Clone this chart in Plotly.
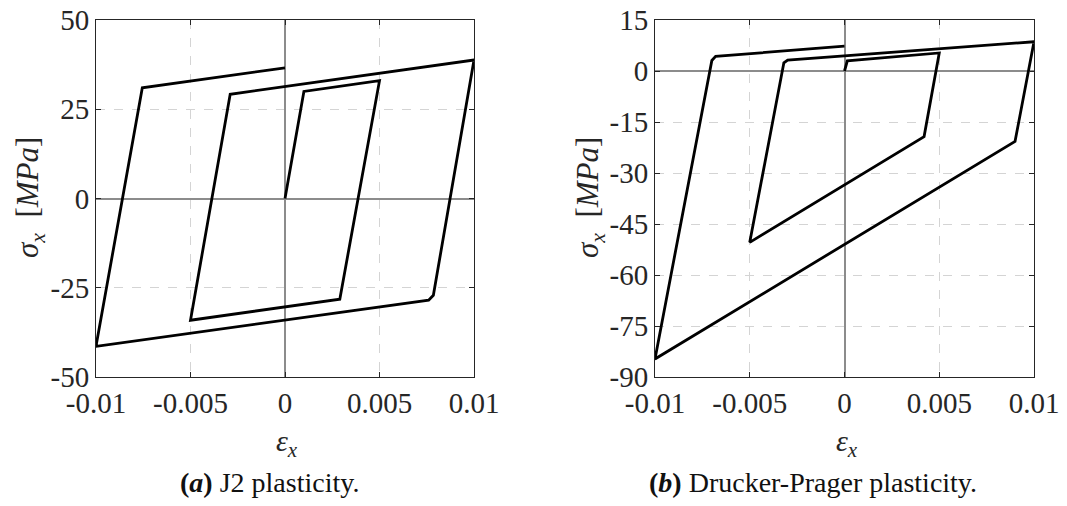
import plotly.graph_objects as go

# ---- data ----
j2_strain = [0.0, 0.001, 0.005, 0.0029, -0.005, -0.0029, 0.01, 0.00785, 0.0076, -0.01, -0.00755, 0.0]
j2_stress = [0.0, 30.0, 33.0, -28.2, -34.1, 29.2, 38.8, -27.1, -28.5, -41.4, 31.0, 36.6]

dp_strain = [0.0, 0.00015, 0.005, 0.0042, -0.005, -0.0032, -0.0030, 0.01, 0.0090, -0.01, -0.0070, -0.0068, 0.0]
dp_stress = [0.0, 3.0, 5.3, -19.3, -50.4, 2.4, 3.2, 8.6, -20.7, -84.7, 3.1, 4.3, 7.3]

x_tickvals = [-0.01, -0.005, 0, 0.005, 0.01]
x_ticktext = ["-0.01", "-0.005", "0", "0.005", "0.01"]
j2_ytickvals = [-50, -25, 0, 25, 50]
j2_yticktext = ["-50", "-25", "0", "25", "50"]
dp_ytickvals = [-90, -75, -60, -45, -30, -15, 0, 15]
dp_yticktext = ["-90", "-75", "-60", "-45", "-30", "-15", "0", "15"]

captions = ["<b>(<i>a</i>)</b> J2 plasticity.", "<b>(<i>b</i>)</b> Drucker-Prager plasticity."]

W, H = 1067, 506
FONT = "Liberation Serif"
AX = "#262626"

fig = go.Figure()
fig.add_trace(go.Scatter(x=j2_strain, y=j2_stress, mode="lines",
                         line=dict(color="black", width=2.8), xaxis="x", yaxis="y",
                         showlegend=False, hoverinfo="skip"))
fig.add_trace(go.Scatter(x=dp_strain, y=dp_stress, mode="lines",
                         line=dict(color="black", width=2.8), xaxis="x2", yaxis="y2",
                         showlegend=False, hoverinfo="skip"))

def px_x(p):
    return p / W

def px_y(p):
    return 1 - p / H

common = dict(showline=True, mirror="ticks", linecolor=AX, linewidth=1,
              ticks="inside", ticklen=5, tickcolor=AX, tickwidth=1,
              showgrid=True, gridcolor="#d4d4d4", griddash="dash", gridwidth=1,
              zeroline=True, zerolinecolor="#8c8c8c", zerolinewidth=2,
              tickfont=dict(family=FONT, size=29, color="#262626"),
              fixedrange=True, automargin=False, tickmode="array")

fig.update_layout(
    width=W, height=H, margin=dict(l=0, r=0, t=0, b=0, autoexpand=False),
    paper_bgcolor="white", plot_bgcolor="white",
    xaxis=dict(domain=[px_x(96), px_x(474)], anchor="y", range=[-0.01, 0.01],
               tickvals=x_tickvals, ticktext=x_ticktext, **common),
    yaxis=dict(domain=[px_y(377), px_y(20)], anchor="x", range=[-50, 50],
               tickvals=j2_ytickvals, ticktext=j2_yticktext, **common),
    xaxis2=dict(domain=[px_x(655), px_x(1034)], anchor="y2", range=[-0.01, 0.01],
                tickvals=x_tickvals, ticktext=x_ticktext, **common),
    yaxis2=dict(domain=[px_y(377), px_y(20)], anchor="x2", range=[-90, 15],
                tickvals=dp_ytickvals, ticktext=dp_yticktext, **common),
    showlegend=False,
)

ylabel = "<i>σ</i><sub><i>x</i></sub>  [<i>MPa</i>]"
xlabel = "<i>ε</i><sub><i>x</i></sub>"
ann = []
for cx, ylx in [(287, 30), (847, 590)]:
    ann.append(dict(text=xlabel, x=px_x(cx), y=px_y(443), xref="paper", yref="paper",
                    xanchor="center", yanchor="middle", showarrow=False,
                    font=dict(family=FONT, size=30, color="#262626")))
    ann.append(dict(text=ylabel, x=px_x(ylx), y=px_y(198), xref="paper", yref="paper",
                    xanchor="center", yanchor="middle", showarrow=False, textangle=-90,
                    font=dict(family=FONT, size=31, color="#262626")))
for cx, txt in zip([269, 813], captions):
    ann.append(dict(text=txt, x=px_x(cx), y=px_y(482), xref="paper", yref="paper",
                    xanchor="center", yanchor="middle", showarrow=False,
                    font=dict(family=FONT, size=28, color="#111111")))
fig.update_layout(annotations=ann)

fig.write_html("out.html")
